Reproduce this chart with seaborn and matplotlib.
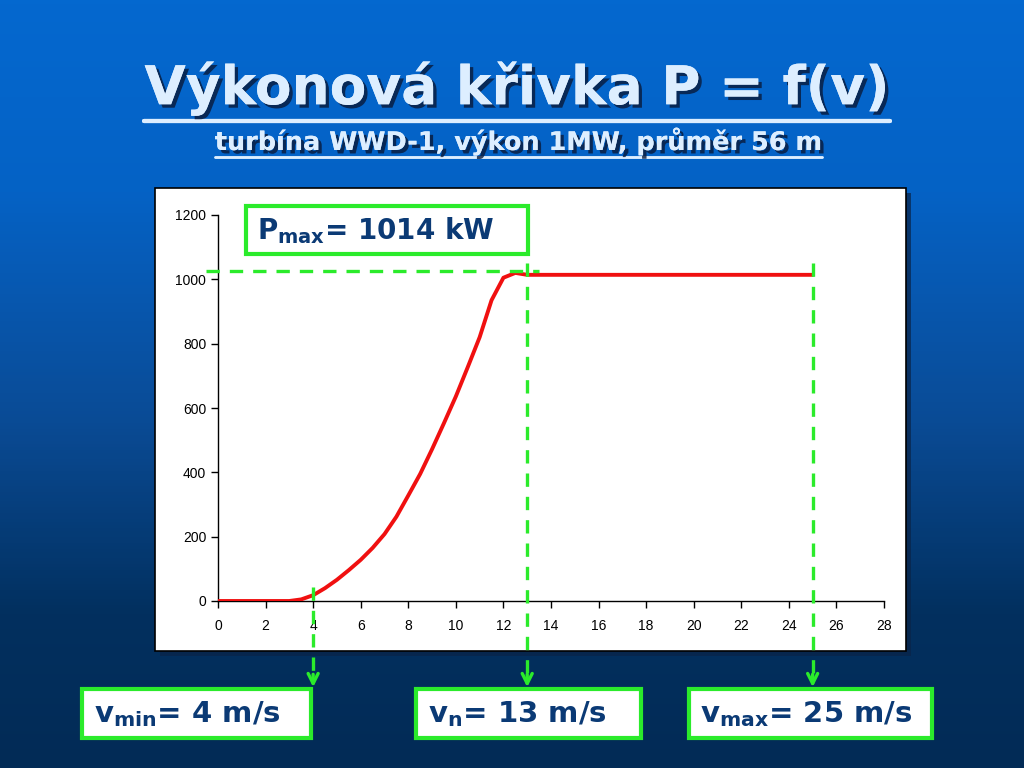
# -*- coding: utf-8 -*-
"""Výkonová křivka větrné turbíny WWD-1 (seaborn)."""

import numpy as np
import matplotlib
import matplotlib.pyplot as plt
import matplotlib.patheffects as pe
from matplotlib.colors import LinearSegmentedColormap
from matplotlib.patches import Rectangle
from matplotlib.lines import Line2D
import seaborn as sns

matplotlib.use("Agg")

# rychlost větru [m/s] a výkon [kW]
wind_speed = [0, 1, 2, 3, 3.5, 4, 4.5, 5, 5.5, 6, 6.5, 7, 7.5, 8, 8.5, 9, 9.5,
              10, 10.5, 11, 11.5, 12, 12.5, 13, 14, 15, 16, 17, 18, 19, 20,
              21, 22, 23, 24, 25]
power = [0, 0, 0, 0, 5, 18, 40, 66, 96, 128, 165, 208, 262, 328, 395, 472, 553,
         636, 727, 820, 935, 1005, 1020, 1014, 1014, 1014, 1014, 1014, 1014,
         1014, 1014, 1014, 1014, 1014, 1014, 1014]

p_max = 1014
v_min, v_n, v_max = 4, 13, 25
x_ticks = list(range(0, 29, 2))
y_ticks = list(range(0, 1201, 200))

title = "Výkonová křivka P = f(v)"
subtitle = "turbína WWD-1, výkon 1MW, průměr 56 m"

GREEN = "#2BEB2B"
NAVY = "#0B3A75"
RED = "#F01010"
TITLE_COLOR = "#DDEEFF"

sns.set_theme(style="ticks")
plt.rcParams["font.family"] = ["Liberation Sans", "DejaVu Sans"]

fig = plt.figure(figsize=(10.24, 7.68), dpi=100)

# pozadí s přechodem
bg = fig.add_axes([0, 0, 1, 1], zorder=-10)
bg_cmap = LinearSegmentedColormap.from_list(
    "bg", [(0, "#0468CF"), (0.25, "#0562C5"), (0.55, "#0A4B95"),
           (0.8, "#02305F"), (1.0, "#022B56")])
bg.imshow(np.linspace(0, 1, 256).reshape(-1, 1), aspect="auto", cmap=bg_cmap,
          extent=[0, 1, 0, 1])
bg.set_axis_off()

# bílý rámeček grafu se stínem
fig.patches.append(Rectangle((160 / 1024, 1 - 656 / 768), 751 / 1024, 463 / 768,
                             transform=fig.transFigure, facecolor="#0a2448",
                             edgecolor="none", alpha=0.7, zorder=-5))
fig.patches.append(Rectangle((155 / 1024, 1 - 651 / 768), 751 / 1024, 463 / 768,
                             transform=fig.transFigure, facecolor="white",
                             edgecolor="black", linewidth=1.2, zorder=-4))

ax = fig.add_axes([218 / 1024, 1 - 601 / 768, 666 / 1024, 386 / 768])
ax.set_facecolor("none")
sns.lineplot(x=wind_speed, y=power, ax=ax, color=RED, linewidth=2.8,
             zorder=3)
ax.set_xlim(0, 28)
ax.set_ylim(0, 1200)
ax.set_xticks(x_ticks)
ax.set_yticks(y_ticks)
ax.tick_params(axis="both", labelsize=10, length=5, width=1, color="black",
               labelcolor="black", direction="out")
ax.tick_params(axis="x", pad=8)
for side in ("top", "right"):
    ax.spines[side].set_visible(False)
for side in ("left", "bottom"):
    ax.spines[side].set_color("black")
    ax.spines[side].set_linewidth(1)
ax.set_xlabel("")
ax.set_ylabel("")

# zelené přerušované čáry
dash = dict(color=GREEN, linewidth=2.4, linestyle=(0, (4, 3)), clip_on=False,
            zorder=4)
ax.plot([-0.5, 13.5], [1025, 1025], **dash)
y_arrow = -268
for v, top in ((v_min, 45), (v_n, 1052), (v_max, 1050)):
    ax.plot([v, v], [top, y_arrow + 15], **dash)
    ax.annotate("", xy=(v, y_arrow), xytext=(v, y_arrow + 40),
                xycoords="data", annotation_clip=False,
                arrowprops=dict(arrowstyle="->", color=GREEN, lw=2.4,
                                mutation_scale=18, shrinkA=0, shrinkB=0))


def label_box(x0, y0, x1, y1, text, tx, ty, size):
    fig.patches.append(Rectangle((x0 / 1024, 1 - y1 / 768), (x1 - x0) / 1024,
                                 (y1 - y0) / 768, transform=fig.transFigure,
                                 facecolor="white", edgecolor=GREEN,
                                 linewidth=3, zorder=5))
    fig.text(tx / 1024, 1 - ty / 768, text, color=NAVY, fontsize=size,
             fontweight="bold", family=["DejaVu Sans"], va="center",
             ha="left", zorder=6)


label_box(246, 206, 528, 254, r"P$_\mathregular{max}$= " + f"{p_max} kW",
          257, 231, 20)
label_box(82, 689, 311, 738, r"v$_\mathregular{min}$= " + f"{v_min} m/s",
          94, 714, 21)
label_box(416, 689, 641, 738, r"v$_\mathregular{n}$= " + f"{v_n} m/s",
          428, 714, 21)
label_box(689, 689, 932, 738, r"v$_\mathregular{max}$= " + f"{v_max} m/s",
          700, 714, 21)

# nadpisy s podtržením a stínem
shadow = [pe.withSimplePatchShadow(offset=(2.5, -2.5), shadow_rgbFace="#0a1a3a",
                                   alpha=0.8), pe.Normal()]
t1 = fig.text(0.505, 1 - 88 / 768, title, ha="center", va="center",
              fontsize=38.5, fontweight="bold", color=TITLE_COLOR,
              family=["DejaVu Sans"], path_effects=shadow)
t2 = fig.text(0.506, 1 - 141 / 768, subtitle, ha="center", va="center",
              fontsize=18.4, fontweight="bold", color=TITLE_COLOR,
              family=["DejaVu Sans"], path_effects=shadow)

fig.canvas.draw()
renderer = fig.canvas.get_renderer()
inv = fig.transFigure.inverted()
for t, ypix, lw in ((t1, 121, 3), (t2, 157, 1.8)):
    bb = t.get_window_extent(renderer)
    (x0, _), (x1, _) = inv.transform([(bb.x0, 0), (bb.x1, 0)])
    fig.lines.append(Line2D([x0, x1], [1 - ypix / 768] * 2,
                            transform=fig.transFigure, color=TITLE_COLOR,
                            linewidth=lw, path_effects=shadow))

fig.savefig("out.png", dpi=100)
